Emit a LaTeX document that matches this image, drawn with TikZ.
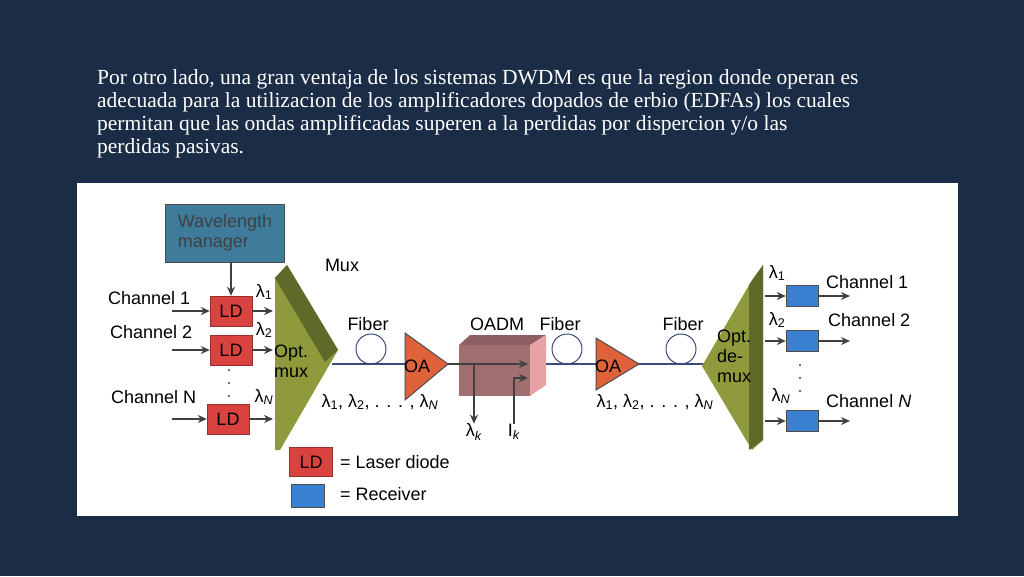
\documentclass[tikz,border=0pt]{standalone}
\usepackage{fontspec}
\setmainfont{Liberation Serif}
\newfontfamily\diag{Liberation Sans}
\usetikzlibrary{positioning,arrows.meta}
\definecolor{bgnavy}{HTML}{1B2C47}
\definecolor{ldred}{HTML}{D9433F}
\definecolor{rxblue}{HTML}{3A80D2}
\definecolor{wmblue}{HTML}{3F7C9C}
\definecolor{olive}{HTML}{8F9A3C}
\definecolor{olivedk}{HTML}{5F6A2A}
\definecolor{oaorange}{HTML}{E0623A}
\definecolor{fibblue}{HTML}{3A4A7A}
\definecolor{oadmfront}{HTML}{A26F70}
\definecolor{oadmtop}{HTML}{8E5F62}
\definecolor{oadmside}{HTML}{E7A3A3}
\tikzset{
  ld/.style={draw=ldred!70!black, fill=ldred, minimum width=42pt, minimum height=30pt, inner sep=0pt, font=\diag\fontsize{18}{18}\selectfont},
  rx/.style={draw=black!70, fill=rxblue, minimum width=32pt, minimum height=21pt, inner sep=0pt},
  lbl/.style={font=\diag\fontsize{18}{20}\selectfont, inner sep=0pt},
  sig/.style={-{Stealth[length=9pt,width=8pt]}, line width=1.5pt, black!75},
  oa/.style={draw=black!70, line width=1pt, fill=oaorange}
}
\begin{document}
\begin{tikzpicture}[x=1pt,y=-1pt]
		\useasboundingbox (0,0) rectangle (1024,576);
		\fill[bgnavy] (0,0) rectangle (1024,576);
		\node[anchor=north west, align=left, text=white, inner sep=0pt, font=\fontsize{21.5}{23}\selectfont] (intro) at (97,69)
			{Por otro lado, una gran ventaja de los sistemas DWDM es que la region donde operan es\\
			 adecuada para la utilizacion de los amplificadores dopados de erbio (EDFAs) los cuales\\
			 permitan que las ondas amplificadas superen a la perdidas por dispercion y/o las\\
			 perdidas pasivas.};
		\fill[white] (77,183) rectangle (958,516);

		% transmitter side
		\node[draw=black!70, fill=wmblue, minimum width=119pt, minimum height=58pt, align=left, lbl, text=black!75] (wm) at (225,233) {Wavelength\\manager};
		\node[ld] (ld1) at (231,311) {LD};
		\node[ld] (ld2) at (231,350) {LD};
		\node[ld] (ldn) at (228,419) {LD};
		\draw[sig] (wm.south -| ld1) -- (ld1);
		\node[lbl, anchor=south west] (ch1) at (108,305) {Channel 1};
		\node[lbl, anchor=south west] (ch2) at (110,339) {Channel 2};
		\node[lbl, anchor=south west] (chn) at (111,404) {Channel N};
		\coordinate (in1) at (172,311); \coordinate (in2) at (172,350); \coordinate (inn) at (172,419);
		\draw[sig] (in1) -- (ld1);
		\draw[sig] (in2) -- (ld2);
		\draw[sig] (inn) -- (ldn);
		\coordinate (m1) at (273,311); \coordinate (m2) at (273,350); \coordinate (mn) at (273,419);
		\draw[sig] (ld1) -- (m1);
		\draw[sig] (ld2) -- (m2);
		\draw[sig] (ldn) -- (mn);
		\node[lbl] (l1) at (264,292) {λ\textsubscript{1}};
		\node[lbl] (l2) at (264,330) {λ\textsubscript{2}};
		\node[lbl] (ln) at (264,397) {λ\textsubscript{\textit{N}}};
		\foreach \dy in {370,383,396} \fill[black!75] (229,\dy) circle[radius=1.2];

		% multiplexer
		\fill[olive] (275,278) -- (287,265) -- (338,350) -- (280,450) -- (275,450) -- cycle;
		\fill[olivedk] (275,278) -- (287,265) -- (338,350) -- (325,362) -- cycle;
		\node[lbl, align=left, anchor=west] (optmux) at (274,361) {Opt.\\mux};
		\node[lbl] (mux) at (342,265) {Mux};

		% fiber line
		\coordinate (fstart) at (332,364); \coordinate (fend) at (704,364);
		\draw[fibblue, line width=1.5pt] (fstart) -- (fend);
		\foreach \fx in {371,567,681} \draw[fibblue, line width=1pt] (\fx,349) circle[radius=15];
		\node[lbl] (fib1) at (368,324) {Fiber};
		\node[lbl] (fib2) at (560,324) {Fiber};
		\node[lbl] (fib3) at (683,324) {Fiber};

		% amplifiers
		\draw[oa] (405,333) -- (448,364) -- (405,400) -- cycle;
		\node[lbl, anchor=west] (oa1) at (404,366) {OA};
		\draw[oa] (596,338) -- (639,364) -- (596,390) -- cycle;
		\node[lbl, anchor=west] (oa2) at (595,366) {OA};

		% OADM
		\fill[oadmtop] (459,345) -- (470,335) -- (546,335) -- (530,345) -- cycle;
		\fill[oadmside] (530,345) -- (546,335) -- (546,385) -- (530,396) -- cycle;
		\fill[oadmfront] (459,345) rectangle (530,396);
		\node[lbl] (oadm) at (497,324) {OADM};
		\coordinate (dropin) at (449,364); \coordinate (dropout) at (528,364);
		\draw[sig] (dropin) -- (dropout);
		\coordinate (dk) at (474,364);
		\node[lbl] (lk) at (474,432) {λ\textsubscript{\textit{k}}};
		\draw[sig] (dk) -- (lk.north);
		\node[lbl] (ik) at (514,432) {I\textsubscript{\textit{k}}};
		\coordinate (addin) at (528,378);
		\draw[sig] (ik.north) |- (addin);
		\node[lbl] (lall1) at (380,402) {λ\textsubscript{1}, λ\textsubscript{2}, . . . , λ\textsubscript{\textit{N}}};
		\node[lbl] (lall2) at (655,402) {λ\textsubscript{1}, λ\textsubscript{2}, . . . , λ\textsubscript{\textit{N}}};

		% demultiplexer
		\fill[olive] (702,366) -- (752,280) -- (763,265) -- (763,440) -- (752,450) -- cycle;
		\fill[olivedk] (749,285) -- (763,265) -- (763,440) -- (749,450) -- cycle;
		\node[lbl, align=left, anchor=west] (optdemux) at (717,356) {Opt.\\de-\\mux};

		% receivers
		\node[rx] (rx1) at (802,296) {};
		\node[rx] (rx2) at (802,341) {};
		\node[rx] (rxn) at (802,421) {};
		\coordinate (d1) at (765,296); \coordinate (d2) at (765,341); \coordinate (dn) at (765,421);
		\draw[sig] (d1) -- (rx1);
		\draw[sig] (d2) -- (rx2);
		\draw[sig] (dn) -- (rxn);
		\coordinate (o1) at (850,296); \coordinate (o2) at (850,341); \coordinate (on) at (850,421);
		\draw[sig] (rx1) -- (o1);
		\draw[sig] (rx2) -- (o2);
		\draw[sig] (rxn) -- (on);
		\node[lbl] (r1) at (777,273) {λ\textsubscript{1}};
		\node[lbl] (r2) at (777,320) {λ\textsubscript{2}};
		\node[lbl] (rn) at (781,396) {λ\textsubscript{\textit{N}}};
		\foreach \dy in {365,378,391} \fill[black!75] (800,\dy) circle[radius=1.2];
		\node[lbl, anchor=west] (och1) at (826,282) {Channel 1};
		\node[lbl, anchor=west] (och2) at (828,320) {Channel 2};
		\node[lbl, anchor=west] (ochn) at (826,401) {Channel \textit{N}};

		% legend
		\node[ld, minimum width=43pt, minimum height=29pt] (legld) at (311,462) {LD};
		\node[lbl, anchor=west] (legldt) at (340,462) {= Laser diode};
		\node[rx, minimum width=33pt, minimum height=23pt] (legrx) at (308,496) {};
		\node[lbl, anchor=west] (legrxt) at (340,494) {= Receiver};
\end{tikzpicture}
\end{document}
